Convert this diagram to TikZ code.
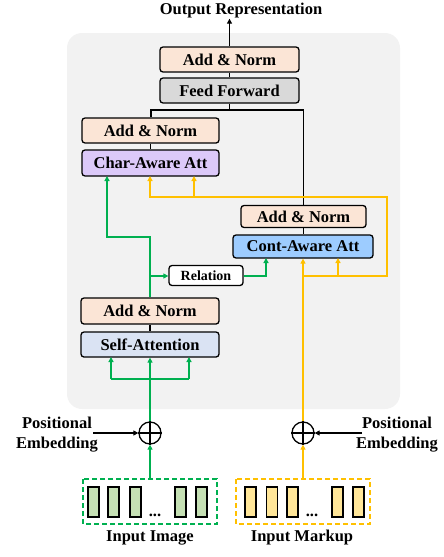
\documentclass[tikz,border=0pt]{standalone}
\usepackage{fontspec}
\setmainfont{Liberation Serif}
\usetikzlibrary{arrows.meta,calc}
\definecolor{bgc}{HTML}{F2F2F2}
\definecolor{anc}{HTML}{FBE5D6}
\definecolor{ffc}{HTML}{D9D9D9}
\definecolor{chc}{HTML}{DCC9F9}
\definecolor{coc}{HTML}{9DCCFF}
\definecolor{sac}{HTML}{DAE3F3}
\definecolor{grn}{HTML}{00B050}
\definecolor{ylw}{HTML}{FFC000}
\definecolor{grf}{HTML}{C5E0B4}
\definecolor{ylf}{HTML}{FFE699}
\tikzset{
  box/.style={draw=black, line width=1.3pt, rounded corners=3pt, inner sep=0pt,
    font=\fontsize{16.5}{20}\selectfont\bfseries},
  lbl/.style={inner sep=0pt, font=\fontsize{16.5}{20}\selectfont\bfseries, align=center},
  tok/.style={draw=black, line width=1.3pt, minimum width=11pt, minimum height=30pt, inner sep=0pt},
  arr/.style={-{Triangle[length=5pt,width=5pt]}, line width=1.2pt},
  gl/.style={arr, draw=grn, color=grn},
  yl/.style={arr, draw=ylw, color=ylw},
  pl/.style={line width=1.2pt},
  plus/.style={circle, draw=black, line width=1.3pt, minimum size=22pt, inner sep=0pt}
}
\begin{document}
\begin{tikzpicture}[x=1pt,y=-1pt]
\useasboundingbox (0,0) rectangle (444,557);
\fill[bgc, rounded corners=15pt] (67,33) rectangle (400,409);

% boxes
\node[box, fill=anc, minimum width=139pt, minimum height=25pt] (an3) at (229.5,59.5) {Add \& Norm};
\node[box, fill=ffc, minimum width=139pt, minimum height=25pt] (ff) at (229.5,90.5) {Feed Forward};
\node[box, fill=anc, minimum width=137pt, minimum height=25pt] (an2) at (150.5,130.5) {Add \& Norm};
\node[box, fill=chc, minimum width=137pt, minimum height=26pt] (ch) at (150.5,163) {Char-Aware Att};
\node[box, fill=anc, minimum width=125pt, minimum height=22pt] (anr) at (303.5,216.5) {Add \& Norm};
\node[box, fill=coc, minimum width=140pt, minimum height=23pt] (co) at (303,246.5) {Cont-Aware Att};
\node[box, fill=white, minimum width=74pt, minimum height=20pt, font=\fontsize{14}{16}\selectfont\bfseries] (rel) at (206,275.5) {Relation};
\node[box, fill=anc, minimum width=138pt, minimum height=26pt] (an1) at (150,311) {Add \& Norm};
\node[box, fill=sac, minimum width=138pt, minimum height=25pt] (sa) at (150,344.5) {Self-Attention};

\node[lbl] (out) at (241,11) {Output Representation};

% plus nodes
\node[plus] (p1) at (150,433) {};
\draw[line width=1.3pt] (p1.north) -- (p1.south) (p1.west) -- (p1.east);
\node[plus] (p2) at (303,433) {};
\draw[line width=1.3pt] (p2.north) -- (p2.south) (p2.west) -- (p2.east);

\node[lbl] (pe1) at (57,435) {Positional\\Embedding};
\node[lbl] (pe2) at (397,435) {Positional\\Embedding};
\coordinate (pe1e) at (93,433);
\coordinate (pe2e) at (362,433);

% input boxes
\draw[grn, line width=1.4pt, dash pattern=on 5pt off 3pt] (83,479) rectangle (217,524);
\draw[ylw, line width=1.4pt, dash pattern=on 5pt off 3pt] (236,479) rectangle (370,524);
\coordinate (gin) at (150,479);
\coordinate (yin) at (303,479);
\foreach \x [count=\i] in {93.5,113.5,135.5,180.5,201.5}
  \node[tok, fill=grf] (g\i) at (\x,502) {};
\foreach \x [count=\i] in {250.5,272,292.5,337.5,358.5}
  \node[tok, fill=ylf] (y\i) at (\x,502) {};
\node[inner sep=0pt, anchor=base, font=\fontsize{16.5}{20}\selectfont\bfseries] (d1) at (155,516) {...};
\node[inner sep=0pt, anchor=base, font=\fontsize{16.5}{20}\selectfont\bfseries] (d2) at (312,516) {...};
\node[lbl] (ii) at (150,538) {Input Image};
\node[lbl] (im) at (302,538) {Input Markup};

% black connectors
\draw[arr] (an3.north) -- (an3.north |- out.south);
\draw[pl] (an3.south) -- (ff.north);
\draw[pl] (an2.south) -- (ch.north -| an2.south);
\draw[pl] (anr.south) -- (co.north -| anr.south);
\draw[pl] (an1.south) -- (sa.north);
\coordinate (bj) at (229.5,110);
\draw[pl] (ff.south) -- (bj);
\draw[pl] (an2.north -| 151,0) |- (bj) -| (anr.north);
\draw[arr] (pe1e) -- (p1.west);
\draw[arr] (pe2e) -- (p2.east);

% green connectors
\draw[gl] (gin) -- (p1.south);
\coordinate (gs) at (150,379);
\draw[pl, grn] (p1.north) -- (gs);
\draw[gl] (111,379) -- (111,357);
\draw[gl] (189,379) -- (189,357);
\draw[pl, grn] (111,379) -- (189,379);
\draw[gl] (gs) -- (sa.south);
\coordinate (gr) at (150,276);
\draw[gl] (an1.north) -- (150,237) -| (107,176);
\draw[gl] (gr) -- (rel.west |- gr);
\draw[gl] (rel.east |- gr) -| (266,258);

% yellow connectors
\draw[yl] (yin) -- (p2.south);
\coordinate (yr) at (303,276);
\draw[yl] (p2.north) -- (co.south -| p2.north);
\draw[yl] (yr) -- (387,276) -- (387,197) -| (150,176);
\draw[yl] (194,197) -- (194,176);
\draw[yl] (338,276) -- (338,258);
\end{tikzpicture}
\end{document}
